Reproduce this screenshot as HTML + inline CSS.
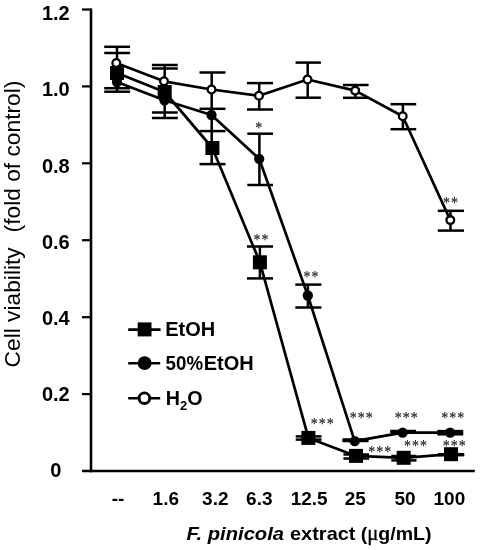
<!DOCTYPE html>
<html><head><meta charset="utf-8"><title>F. pinicola extract cell viability</title>
<style>
html,body{margin:0;padding:0;background:#fff;}
body{width:484px;height:550px;overflow:hidden;}
svg{display:block;}
text{font-family:"Liberation Sans",sans-serif;fill:#000;}
.b{font-weight:bold;}
.st{font-family:"Liberation Serif",serif;font-size:14px;fill:#222;stroke:#222;stroke-width:0.15px;}
</style></head><body>
<svg width="484" height="550" viewBox="0 0 484 550">
<rect width="484" height="550" fill="#fff"/>

<g stroke="#000" stroke-width="2.6" fill="none" stroke-linecap="butt">
<line x1="91" y1="8.4" x2="91" y2="472.2"/>
<line x1="82" y1="471" x2="474.8" y2="471"/>
</g>
<g stroke="#000" stroke-width="2.2" fill="none">
<line x1="82" y1="9.5" x2="91" y2="9.5"/>
<line x1="82" y1="86.4" x2="91" y2="86.4"/>
<line x1="82" y1="163.3" x2="91" y2="163.3"/>
<line x1="82" y1="240.2" x2="91" y2="240.2"/>
<line x1="82" y1="317.2" x2="91" y2="317.2"/>
<line x1="82" y1="394.1" x2="91" y2="394.1"/>
</g>
<g stroke="#000" stroke-width="2.5" fill="none">
<line x1="117" y1="46.8" x2="117" y2="91.7"/>
<line x1="104.2" y1="46.8" x2="130.1" y2="46.8"/>
<line x1="104.2" y1="53.0" x2="130.1" y2="53.0"/>
<line x1="104.2" y1="88.2" x2="130.1" y2="88.2"/>
<line x1="104.2" y1="91.7" x2="130.1" y2="91.7"/>
<line x1="164.7" y1="65" x2="164.7" y2="118"/>
<line x1="151.9" y1="65" x2="177.8" y2="65"/>
<line x1="151.9" y1="68.5" x2="177.8" y2="68.5"/>
<line x1="151.9" y1="112.5" x2="177.8" y2="112.5"/>
<line x1="151.9" y1="118" x2="177.8" y2="118"/>
<line x1="211.7" y1="72.5" x2="211.7" y2="164.1"/>
<line x1="199.5" y1="72.5" x2="225.5" y2="72.5"/>
<line x1="199.5" y1="108.8" x2="225.5" y2="108.8"/>
<line x1="199.5" y1="131.1" x2="225.5" y2="131.1"/>
<line x1="199.5" y1="164.1" x2="225.5" y2="164.1"/>
<line x1="259.2" y1="83.1" x2="259.2" y2="109.5"/>
<line x1="247" y1="83.1" x2="273" y2="83.1"/>
<line x1="247" y1="109.5" x2="273" y2="109.5"/>
<line x1="259.4" y1="133.7" x2="259.4" y2="185"/>
<line x1="247.3" y1="133.7" x2="273" y2="133.7"/>
<line x1="247.3" y1="185" x2="273" y2="185"/>
<line x1="259.9" y1="246.5" x2="259.9" y2="278.4"/>
<line x1="247" y1="246.5" x2="273" y2="246.5"/>
<line x1="247" y1="278.4" x2="273" y2="278.4"/>
<line x1="307.7" y1="62.6" x2="307.7" y2="97.7"/>
<line x1="295.5" y1="62.6" x2="320.9" y2="62.6"/>
<line x1="295.5" y1="97.7" x2="320.9" y2="97.7"/>
<line x1="307.9" y1="284.6" x2="307.9" y2="307.5"/>
<line x1="295.3" y1="284.6" x2="321.4" y2="284.6"/>
<line x1="295.3" y1="307.5" x2="321.4" y2="307.5"/>
<line x1="308.4" y1="436.4" x2="308.4" y2="439.6"/>
<line x1="295.7" y1="436.4" x2="321.5" y2="436.4"/>
<line x1="295.7" y1="439.6" x2="321.5" y2="439.6"/>
<line x1="355.4" y1="85" x2="355.4" y2="97.8"/>
<line x1="343" y1="85" x2="368.6" y2="85"/>
<line x1="343" y1="97.8" x2="368.6" y2="97.8"/>
<line x1="355" y1="439.5" x2="355" y2="441.0"/>
<line x1="342.4" y1="439.5" x2="368.5" y2="439.5"/>
<line x1="342.4" y1="441.0" x2="368.5" y2="441.0"/>
<line x1="356" y1="454.5" x2="356" y2="458.5"/>
<line x1="343.4" y1="454.5" x2="369" y2="454.5"/>
<line x1="343.4" y1="458.5" x2="369" y2="458.5"/>
<line x1="402.9" y1="104.2" x2="402.9" y2="129.2"/>
<line x1="390.5" y1="104.2" x2="416.2" y2="104.2"/>
<line x1="390.5" y1="129.2" x2="416.2" y2="129.2"/>
<line x1="403" y1="431.0" x2="403" y2="432.0"/>
<line x1="390.3" y1="431.0" x2="416" y2="431.0"/>
<line x1="390.3" y1="432.0" x2="416" y2="432.0"/>
<line x1="403.7" y1="456" x2="403.7" y2="460.4"/>
<line x1="391.3" y1="456" x2="416.5" y2="456"/>
<line x1="391.3" y1="460.4" x2="416.5" y2="460.4"/>
<line x1="450.5" y1="210.8" x2="450.5" y2="230.6"/>
<line x1="437.8" y1="210.8" x2="464" y2="210.8"/>
<line x1="437.8" y1="230.6" x2="464" y2="230.6"/>
<line x1="450.3" y1="431.1" x2="450.3" y2="434.3"/>
<line x1="437.3" y1="431.1" x2="463.2" y2="431.1"/>
<line x1="437.3" y1="432.7" x2="463.2" y2="432.7"/>
<line x1="437.3" y1="434.3" x2="463.2" y2="434.3"/>
<line x1="451" y1="454.2" x2="451" y2="455.2"/>
<line x1="438" y1="454.2" x2="464.2" y2="454.2"/>
<line x1="438" y1="455.2" x2="464.2" y2="455.2"/>
</g>
<g stroke="#000" stroke-width="2.7" fill="none" stroke-linejoin="round">
<polyline points="117,73 164.7,92 212.4,148 259.9,262.3 308.4,437.9 356,455.9 403.7,457.8 451,454.2"/>
<polyline points="117,82 164.5,100.3 211.5,115 259.2,158.8 307.8,295.5 354.7,441.2 402.6,432.7 450.1,432.7"/>
<polyline points="116.3,63 164,81.3 211.5,89.5 259,95.7 307.5,79.5 355.2,90.6 402.7,116.2 450.3,220.1"/>
</g>
<rect x="110.0" y="66.0" width="14" height="14" fill="#000"/>
<rect x="157.7" y="85.0" width="14" height="14" fill="#000"/>
<rect x="205.4" y="141.0" width="14" height="14" fill="#000"/>
<rect x="252.9" y="255.3" width="14" height="14" fill="#000"/>
<rect x="301.4" y="430.9" width="14" height="14" fill="#000"/>
<rect x="349.0" y="448.9" width="14" height="14" fill="#000"/>
<rect x="396.7" y="450.8" width="14" height="14" fill="#000"/>
<rect x="444.0" y="447.2" width="14" height="14" fill="#000"/>
<circle cx="117" cy="82" r="5.15" fill="#000"/>
<circle cx="164.5" cy="100.3" r="5.15" fill="#000"/>
<circle cx="211.5" cy="115" r="5.15" fill="#000"/>
<circle cx="259.2" cy="158.8" r="5.15" fill="#000"/>
<circle cx="307.8" cy="295.5" r="5.15" fill="#000"/>
<circle cx="354.7" cy="441.2" r="5.15" fill="#000"/>
<circle cx="402.6" cy="432.7" r="5.15" fill="#000"/>
<circle cx="450.1" cy="432.7" r="5.15" fill="#000"/>
<circle cx="116.3" cy="63" r="3.85" fill="#fff" stroke="#000" stroke-width="2.3"/>
<circle cx="164" cy="81.3" r="3.85" fill="#fff" stroke="#000" stroke-width="2.3"/>
<circle cx="211.5" cy="89.5" r="3.85" fill="#fff" stroke="#000" stroke-width="2.3"/>
<circle cx="259" cy="95.7" r="3.85" fill="#fff" stroke="#000" stroke-width="2.3"/>
<circle cx="307.5" cy="79.5" r="3.85" fill="#fff" stroke="#000" stroke-width="2.3"/>
<circle cx="355.2" cy="90.6" r="3.85" fill="#fff" stroke="#000" stroke-width="2.3"/>
<circle cx="402.7" cy="116.2" r="3.85" fill="#fff" stroke="#000" stroke-width="2.3"/>
<circle cx="450.3" cy="220.1" r="3.85" fill="#fff" stroke="#000" stroke-width="2.3"/>
<g stroke="#000" stroke-width="2.6">
<line x1="128.2" y1="329.6" x2="160.6" y2="329.6"/>
<line x1="128.2" y1="363.2" x2="160.2" y2="363.2"/>
<line x1="128.2" y1="398.2" x2="160.2" y2="398.2"/>
</g>
<rect x="137.7" y="322.4" width="13.8" height="14" fill="#000"/>
<circle cx="144.6" cy="363.2" r="6.9" fill="#000"/>
<circle cx="144.4" cy="398.2" r="5.3" fill="#fff" stroke="#000" stroke-width="2.9"/>
<text class="b" transform="translate(165.3,335.8) scale(1.02,1)" font-size="19.6">EtOH</text>
<text class="b" transform="translate(165.6,369.9) scale(0.955,1)" font-size="19.6">50%</text>
<text class="b" transform="translate(203.7,369.9) scale(1.02,1)" font-size="19.6">EtOH</text>
<text class="b" transform="translate(165.7,404.7) scale(1.005,1)" font-size="19.6">H<tspan font-size="13" dy="4.9">2</tspan><tspan dy="-4.9">O</tspan></text>
<text class="b" x="55.8" y="20.2" font-size="20" text-anchor="middle">1.2</text>
<text class="b" x="55.8" y="96.4" font-size="20" text-anchor="middle">1.0</text>
<text class="b" x="55.8" y="172.6" font-size="20" text-anchor="middle">0.8</text>
<text class="b" x="55.8" y="248.7" font-size="20" text-anchor="middle">0.6</text>
<text class="b" x="55.8" y="324.9" font-size="20" text-anchor="middle">0.4</text>
<text class="b" x="55.8" y="401.0" font-size="20" text-anchor="middle">0.2</text>
<text class="b" x="55.8" y="477.2" font-size="20" text-anchor="middle">0</text>
<text class="b" x="118" y="504.9" font-size="19" text-anchor="middle">--</text>
<text class="b" x="165.8" y="504.9" font-size="19" text-anchor="middle">1.6</text>
<text class="b" x="215.3" y="504.9" font-size="19" text-anchor="middle">3.2</text>
<text class="b" x="259.3" y="504.9" font-size="19" text-anchor="middle">6.3</text>
<text class="b" x="309.2" y="504.9" font-size="19" text-anchor="middle">12.5</text>
<text class="b" x="355.2" y="504.9" font-size="19" text-anchor="middle">25</text>
<text class="b" x="405" y="504.9" font-size="19" text-anchor="middle">50</text>
<text class="b" x="449.4" y="504.9" font-size="19" text-anchor="middle">100</text>
<text class="b" x="186.5" y="539.6" font-size="19" font-style="italic" textLength="97.5" lengthAdjust="spacingAndGlyphs">F. pinicola</text>
<text class="b" x="290" y="539.6" font-size="19" textLength="65.5" lengthAdjust="spacingAndGlyphs">extract</text>
<text class="b" transform="translate(360.8,539.6) scale(1.03,1)" font-size="19">(<tspan font-weight="normal" font-size="20" stroke="#000" stroke-width="0.35" font-family="'Liberation Serif','DejaVu Serif',serif">μ</tspan>g/mL)</text>
<text transform="translate(19.6,367.4) rotate(-90)" font-size="22.75">Cell viability</text>
<text transform="translate(19.6,232.4) rotate(-90)" font-size="22.75">(fold of control)</text>
<text class="st" transform="translate(255.2,132.6) scale(1,1.2)" letter-spacing="1.0">*</text>
<text class="st" transform="translate(253.6,244.6) scale(1,1.2)" letter-spacing="1.0">**</text>
<text class="st" transform="translate(303.5,281.5) scale(1,1.2)" letter-spacing="1.0">**</text>
<text class="st" transform="translate(310.7,428.7) scale(1,1.2)" letter-spacing="1.0">***</text>
<text class="st" transform="translate(349.7,423.3) scale(1,1.2)" letter-spacing="1.0">***</text>
<text class="st" transform="translate(368.2,456.6) scale(1,1.2)" letter-spacing="1.0">***</text>
<text class="st" transform="translate(394.7,423.3) scale(1,1.2)" letter-spacing="1.0">***</text>
<text class="st" transform="translate(404.1,450.9) scale(1,1.2)" letter-spacing="1.0">***</text>
<text class="st" transform="translate(441.3,423.3) scale(1,1.2)" letter-spacing="1.0">***</text>
<text class="st" transform="translate(442.7,450.9) scale(1,1.2)" letter-spacing="1.0">***</text>
<text class="st" transform="translate(443.0,207.7) scale(1,1.2)" letter-spacing="1.0">**</text>
</svg></body></html>
